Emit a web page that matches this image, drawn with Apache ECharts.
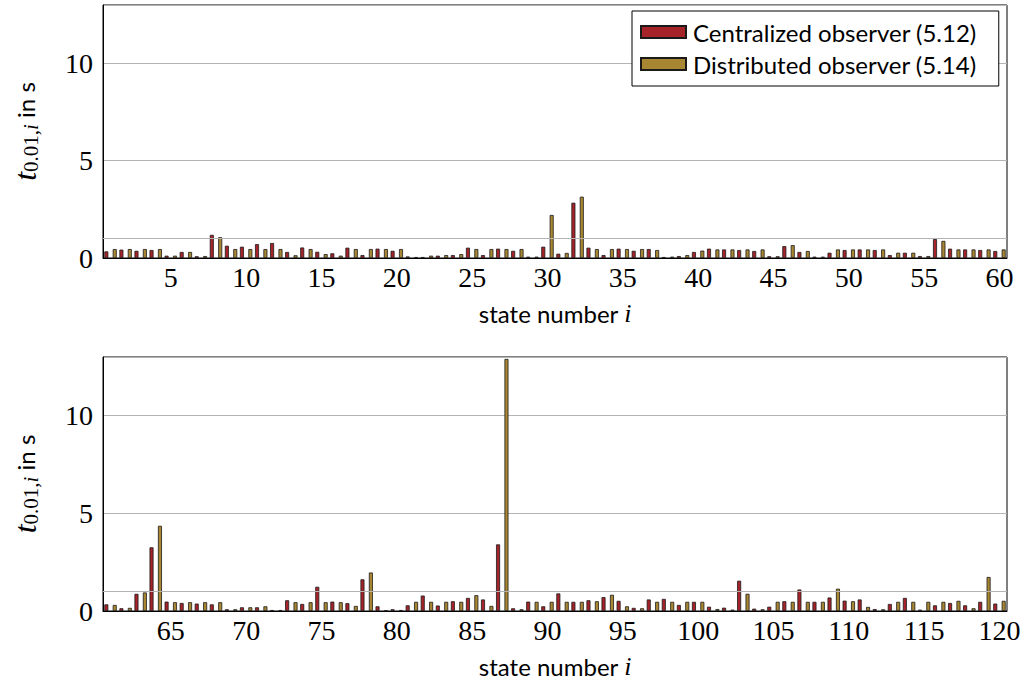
<!DOCTYPE html>
<html>
<head>
<meta charset="utf-8">
<script src="https://cdn.jsdelivr.net/npm/echarts@6/dist/echarts.min.js"></script>
<style>
  html, body { margin: 0; padding: 0; background: #fff; }
  #chart { width: 1024px; height: 687px; }
</style>
</head>
<body>
<div id="chart"></div>
<script>
// states 1..60 (upper plot) and 61..120 (lower plot)
const statesTop = [];
const statesBottom = [];
for (let i = 1; i <= 60; i++) { statesTop.push(String(i)); statesBottom.push(String(i + 60)); }

const centralTop = [
  0.34, 0.43, 0.37, 0.41, 0.12, 0.31, 0.09, 1.19, 0.63, 0.58,
  0.71, 0.77, 0.31, 0.54, 0.32, 0.24, 0.53, 0.15, 0.48, 0.37,
  0.08, 0.05, 0.12, 0.15, 0.53, 0.15, 0.48, 0.37, 0.07, 0.58,
  0.22, 2.84, 0.53, 0.15, 0.48, 0.37, 0.46, 0.05, 0.10, 0.31,
  0.48, 0.44, 0.41, 0.36, 0.09, 0.61, 0.31, 0.07, 0.27, 0.41,
  0.44, 0.41, 0.15, 0.27, 0.10, 0.97, 0.48, 0.44, 0.41, 0.36
];
const distribTop = [
  0.46, 0.46, 0.46, 0.46, 0.12, 0.31, 0.10, 1.07, 0.46, 0.46,
  0.46, 0.46, 0.14, 0.46, 0.20, 0.12, 0.46, 0.46, 0.46, 0.46,
  0.05, 0.12, 0.15, 0.20, 0.46, 0.46, 0.46, 0.46, 0.07, 2.21,
  0.26, 3.15, 0.46, 0.46, 0.46, 0.46, 0.41, 0.07, 0.15, 0.38,
  0.44, 0.44, 0.44, 0.44, 0.09, 0.66, 0.36, 0.07, 0.44, 0.44,
  0.44, 0.44, 0.27, 0.27, 0.10, 0.88, 0.44, 0.44, 0.44, 0.44
];
const centralBottom = [
  0.34, 0.14, 0.88, 3.26, 0.48, 0.41, 0.38, 0.34, 0.09, 0.19,
  0.19, 0.05, 0.55, 0.36, 1.24, 0.48, 0.40, 1.62, 0.24, 0.09,
  0.29, 0.79, 0.28, 0.50, 0.67, 0.59, 3.41, 0.14, 0.48, 0.24,
  0.90, 0.47, 0.55, 0.71, 0.52, 0.16, 0.59, 0.62, 0.31, 0.47,
  0.22, 0.17, 1.55, 0.12, 0.22, 0.50, 1.10, 0.47, 0.69, 0.53,
  0.59, 0.10, 0.36, 0.67, 0.07, 0.29, 0.41, 0.29, 0.47, 0.38
];
const distribBottom = [
  0.31, 0.16, 0.95, 4.36, 0.45, 0.45, 0.45, 0.45, 0.09, 0.19,
  0.24, 0.05, 0.45, 0.45, 0.45, 0.45, 0.26, 1.97, 0.03, 0.05,
  0.47, 0.47, 0.47, 0.47, 0.81, 0.26, 12.9, 0.09, 0.47, 0.47,
  0.47, 0.47, 0.50, 0.83, 0.24, 0.14, 0.47, 0.47, 0.47, 0.47,
  0.10, 0.07, 0.88, 0.09, 0.47, 0.47, 0.47, 0.47, 1.14, 0.50,
  0.21, 0.09, 0.47, 0.47, 0.47, 0.47, 0.52, 0.14, 1.74, 0.52
];

const nameCentral = "Centralized observer (5.12)";
const nameDistrib = "Distributed observer (5.14)";
const colorCentral = "#a6232a";
const colorDistrib = "#a98732";

const serif = "'Liberation Serif', 'DejaVu Serif', serif";
const sans = "Lato, 'Noto Sans', sans-serif";
const gridGray = "#b4b4b4";

const every5 = (idx, val) => Number(val) % 5 === 0;

function xAxes(gridIndex, cats) {
  return [
    {
      type: "category",
      gridIndex: gridIndex,
      data: cats,
      boundaryGap: true,
      axisLine: { lineStyle: { color: "#000", width: 1 } },
      axisTick: { interval: every5, alignWithLabel: true, inside: true, length: 6, lineStyle: { color: "#999" } },
      axisLabel: { interval: every5, color: "#000", fontFamily: serif, fontSize: 28, margin: 5 },
      name: "{a|state number }{i|i}",
      nameLocation: "middle",
      nameGap: 42,
      nameTextStyle: {
        rich: {
          a: { fontFamily: sans, fontSize: 24, color: "#000" },
          i: { fontFamily: serif, fontStyle: "italic", fontSize: 26, color: "#000" }
        }
      }
    },
    {
      type: "category",
      gridIndex: gridIndex,
      position: "top",
      data: cats,
      boundaryGap: true,
      axisLine: { show: false },
      axisTick: { interval: every5, alignWithLabel: true, inside: true, length: 6, lineStyle: { color: "#999" } },
      axisLabel: { show: false }
    }
  ];
}

function yAxis(gridIndex) {
  return {
    type: "value",
    gridIndex: gridIndex,
    min: 0,
    max: 13,
    interval: 5,
    axisLine: { show: true, lineStyle: { color: "#000", width: 1 } },
    axisTick: { show: false },
    splitLine: { lineStyle: { color: gridGray, width: 1 } },
    axisLabel: {
      color: "#000", fontFamily: serif, fontSize: 28, margin: 10,
      formatter: v => (v % 5 === 0 ? String(v) : "")
    },
    name: "{t|t}{s|0.01,}{si|i}{r| in s}",
    nameLocation: "middle",
    nameGap: 62,
    nameTextStyle: {
      rich: {
        t: { fontFamily: serif, fontStyle: "italic", fontSize: 32, lineHeight: 32, color: "#000" },
        s: { fontFamily: serif, fontSize: 21, lineHeight: 21, verticalAlign: "bottom", padding: [12, 0, 0, 0], color: "#000" },
        si: { fontFamily: serif, fontStyle: "italic", fontSize: 21, lineHeight: 21, verticalAlign: "bottom", padding: [12, 0, 0, 0], color: "#000" },
        r: { fontFamily: sans, fontSize: 24, lineHeight: 32, color: "#000" }
      }
    }
  };
}

function barSeries(name, color, values, xi, yi, withLine) {
  const s = {
    name: name,
    type: "bar",
    xAxisIndex: xi,
    yAxisIndex: yi,
    data: values,
    barWidth: 4,
    barGap: "110%",
    itemStyle: { color: color, borderColor: "#1a1a1a", borderWidth: 0.8 },
    emphasis: { disabled: true },
    animation: false
  };
  if (withLine) {
    s.markLine = {
      silent: true,
      symbol: "none",
      label: { show: false },
      lineStyle: { color: gridGray, type: "solid", width: 1 },
      data: [{ yAxis: 1 }],
      animation: false
    };
  }
  return s;
}

const chart = echarts.init(document.getElementById("chart"), null, { renderer: "svg" });

chart.setOption({
  backgroundColor: "#fff",
  animation: false,
  grid: [
    { left: 100, top: 5, width: 907, height: 253, show: true, borderColor: "#000", borderWidth: 1, backgroundColor: "transparent" },
    { left: 100, top: 357, width: 907, height: 254, show: true, borderColor: "#000", borderWidth: 1, backgroundColor: "transparent" }
  ],
  legend: {
    data: [nameCentral, nameDistrib],
    orient: "vertical",
    left: 632,
    top: 11,
    padding: [9, 22, 10, 8],
    itemGap: 8,
    itemWidth: 45,
    itemHeight: 12,
    icon: "rect",
    backgroundColor: "#fff",
    borderColor: "#000",
    borderWidth: 1,
    borderRadius: 0,
    selectedMode: false,
    textStyle: { fontFamily: sans, fontSize: 24, color: "#000", padding: [0, 0, 0, 2] }
  },
  xAxis: [...xAxes(0, statesTop), ...xAxes(1, statesBottom)],
  yAxis: [yAxis(0), yAxis(1)],
  series: [
    barSeries(nameCentral, colorCentral, centralTop, 0, 0, true),
    barSeries(nameDistrib, colorDistrib, distribTop, 0, 0, false),
    barSeries(nameCentral, colorCentral, centralBottom, 2, 1, true),
    barSeries(nameDistrib, colorDistrib, distribBottom, 2, 1, false)
  ]
});
</script>
</body>
</html>
